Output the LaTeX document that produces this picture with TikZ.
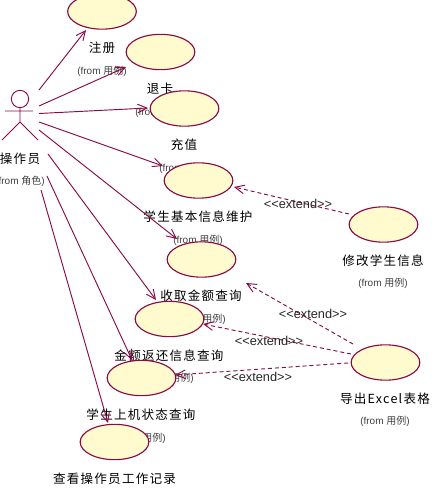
\documentclass[tikz,border=0pt]{standalone}
\usepackage{fontspec}
\setmainfont{Liberation Sans}
\newfontfamily\cjkbig[LetterSpace=10]{Noto Sans CJK SC}
\newfontfamily\cjksmall{Noto Sans CJK SC}
\usetikzlibrary{arrows.meta,shapes.geometric}
\definecolor{umlline}{HTML}{8A0A45}
\definecolor{umlfill}{HTML}{FFFBCF}
\definecolor{umltext}{HTML}{404040}
\tikzset{
  usecase/.style={ellipse,draw=umlline,fill=umlfill,line width=0.85pt,minimum width=51.5pt,minimum height=26.5pt,inner sep=0pt},
  title/.style={font=\cjkbig\fontsize{9.4pt}{11pt}\selectfont,text=black,inner sep=0pt,yshift=-0.75pt},
  fromlbl/.style={font=\fontsize{7.5pt}{9pt}\selectfont,text=umltext,inner sep=0pt},
  extlbl/.style={font=\fontsize{9.6pt}{11pt}\selectfont,text=black!85,inner sep=0pt},
  assoc/.style={draw=umlline,line width=0.7pt,-{Straight Barb[length=7pt,width=6.5pt]}},
  extend/.style={draw=umlline,line width=0.7pt,dash pattern=on 3pt off 2.2pt,-{Straight Barb[length=7pt,width=6.5pt]}},
  limb/.style={draw=umlline,line width=0.7pt}
}
\newcommand{\fromuse}{(from {\cjksmall 用例})}
\begin{document}
\begin{tikzpicture}[x=0.75pt,y=-0.75pt]
\useasboundingbox (0,0) rectangle (443,495);
\clip (0,0) rectangle (443,495);
% labels lie beneath the ellipses
\node[title] (t1) at (102,47) {注册};
\node[fromlbl] (f1) at (102,71) {\fromuse};
\node[title] (t2) at (160,88) {退卡};
\node[fromlbl] (f2) at (160,112) {\fromuse};
\node[title] (t3) at (184,144) {充值};
\node[fromlbl] (f3) at (184,168) {\fromuse};
\node[title] (t4) at (198,216) {学生基本信息维护};
\node[fromlbl] (f4) at (198,240) {\fromuse};
\node[title] (t5) at (201,295) {收取金额查询};
\node[fromlbl] (f5) at (201,319) {\fromuse};
\node[title] (t6) at (169,355) {金额返还信息查询};
\node[fromlbl] (f6) at (169,378) {\fromuse};
\node[title] (t7) at (141,414) {学生上机状态查询};
\node[fromlbl] (f7) at (141,438) {\fromuse};
\node[title] (t8) at (114.5,478) {查看操作员工作记录};
\node[title] (t9) at (383,260) {修改学生信息};
\node[fromlbl] (f9) at (383,283) {\fromuse};
\node[title] (t10) at (385,398) {导出Excel表格};
\node[fromlbl] (f10) at (385,421) {\fromuse};
\node[title] (tA) at (20,158) {操作员};
\node[fromlbl] (fA) at (20,181) {(from {\cjksmall 角色})};
% use cases
\node[usecase] (e1) at (102,11.5) {};
\node[usecase] (e2) at (160.5,52) {};
\node[usecase] (e3) at (184.5,108.5) {};
\node[usecase] (e4) at (198.5,180.5) {};
\node[usecase] (e5) at (201.5,259.5) {};
\node[usecase] (e6) at (169.5,319) {};
\node[usecase] (e7) at (141.5,378) {};
\node[usecase] (e8) at (114.5,442) {};
\node[usecase] (e9) at (383.5,224.5) {};
\node[usecase] (e10) at (385.5,362.5) {};
% actor
\node[circle,draw=umlline,line width=0.7pt,minimum size=13pt,inner sep=0pt] (head) at (20,99) {};
\coordinate (neck) at (20,108);
\coordinate (hip) at (20,122);
\coordinate (handL) at (5,111);
\coordinate (handR) at (33,111);
\coordinate (footL) at (2,140);
\coordinate (footR) at (38,140);
\draw[limb] (head.south) -- (hip) (handL) -- (handR) (footL) -- (hip) -- (footR);
% associations
\draw[assoc] ([shift={(19,-9)}]head.center) -- ([shift={(-16,18.5)}]e1.center);
\draw[assoc] ([shift={(19,7)}]head.center) -- ([shift={(-34.5,15)}]e2.center);
\draw[assoc] ([shift={(19,14.5)}]head.center) -- ([shift={(-36.5,-0.5)}]e3.center);
\draw[assoc] ([shift={(19,23)}]head.center) -- ([shift={(-35.5,-14.5)}]e4.center);
\draw[assoc] ([shift={(19,31)}]head.center) -- ([shift={(-24.5,-20.5)}]e5.center);
\draw[assoc] ([shift={(28,55)}]head.center) -- ([shift={(-13.5,-19)}]e6.center);
\draw[assoc] ([shift={(27,77)}]head.center) -- ([shift={(-9.5,-18)}]e7.center);
\draw[assoc] ([shift={(21,91)}]head.center) -- ([shift={(-6.5,-19)}]e8.center);
% extends
\draw[extend] ([shift={(-34.5,-10.5)}]e9.center) -- ([shift={(35.5,6.5)}]e4.center);
\draw[extend] ([shift={(-32.5,-18.5)}]e10.center) -- ([shift={(44.5,23.5)}]e5.center);
\draw[extend] ([shift={(-34.5,-8.5)}]e10.center) -- ([shift={(33.5,5)}]e6.center);
\draw[extend] ([shift={(-37.5,0.5)}]e10.center) -- ([shift={(33.5,-3)}]e7.center);
\node[extlbl] (x1) at (298,204) {<{}<extend>{}>};
\node[extlbl] (x2) at (313,314) {<{}<extend>{}>};
\node[extlbl] (x3) at (269,341) {<{}<extend>{}>};
\node[extlbl] (x4) at (258,377) {<{}<extend>{}>};
\end{tikzpicture}
\end{document}
